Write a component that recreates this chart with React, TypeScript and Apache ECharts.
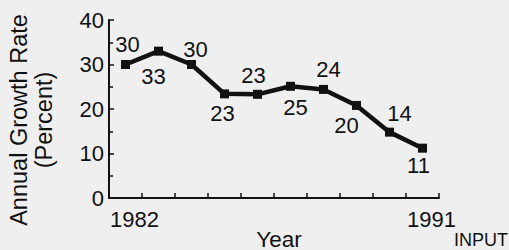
import React, { useEffect, useRef } from "react";
import * as echarts from "echarts";

const years = ["1982", "1983", "1984", "1985", "1986", "1987", "1988", "1989", "1990", "1991"];
const rates = [30, 33, 30, 23.4, 23.3, 25.1, 24.4, 20.8, 14.8, 11.2];
const rateLabels = ["30", "33", "30", "23", "23", "25", "24", "20", "14", "11"];
const yTicks = [0, 10, 20, 30, 40];
const shownYears = ["1982", "1991"];

// label layout (positions/offsets per point)
const labelSides = ["top", "bottom", "top", "bottom", "top", "bottom", "top", "bottom", "top", "bottom"];
const labelOffsets = [
  [2, -1], [-5, 6], [4, 4], [-2, 0], [-4, 1], [5, 2], [5, 0], [-10, 1], [10, 1], [-4, -2],
];

const FONT = "'Liberation Sans', Arial, Helvetica, sans-serif";

export default function App() {
  const ref = useRef<HTMLDivElement>(null);
  useEffect(() => {
    if (!ref.current) return;
    const chart = echarts.init(ref.current, null, { renderer: "svg" });
    const data = rates.map((v, i) => ({
      value: v,
      label: {
        show: true,
        formatter: rateLabels[i],
        position: labelSides[i] as any,
        distance: 4,
        offset: labelOffsets[i],
      },
    }));
    chart.setOption({
      animation: false,
      backgroundColor: "#efeff0",
      textStyle: { fontFamily: FONT },
      grid: { left: 109, right: 70, top: 20, bottom: 52, containLabel: false },
      xAxis: {
        type: "category",
        data: years,
        boundaryGap: true,
        axisLine: { lineStyle: { color: "#111", width: 2 } },
        axisTick: { show: true, inside: true, length: 5, lineStyle: { color: "#111", width: 1.5 } },
        axisLabel: {
          interval: 0,
          margin: 10,
          color: "#111",
          fontSize: 22,
          fontFamily: FONT,
          padding: [0, 0, 0, 18],
          formatter: (v: string) => (shownYears.includes(v) ? v : ""),
        },
        splitLine: { show: false },
      },
      yAxis: {
        type: "value",
        min: yTicks[0],
        max: yTicks[yTicks.length - 1],
        interval: 10,
        axisLine: { show: true, lineStyle: { color: "#111", width: 2 } },
        axisTick: { show: true, inside: true, length: 5, lineStyle: { color: "#111", width: 1.5 } },
        minorTick: { show: true, splitNumber: 2, length: 4, lineStyle: { color: "#111", width: 1.5 } },
        axisLabel: { margin: 5, color: "#111", fontSize: 22, fontFamily: FONT },
        splitLine: { show: false },
      },
      series: [
        {
          type: "line",
          data,
          symbol: "rect",
          symbolSize: 9,
          lineStyle: { color: "#111", width: 4.5 },
          itemStyle: { color: "#111" },
          label: { color: "#111", fontSize: 22, fontFamily: FONT },
        },
      ],
      graphic: [
        {
          type: "text",
          x: 31,
          y: 120,
          rotation: Math.PI / 2,
          style: {
            text: "Annual Growth Rate\n(Percent)",
            fontSize: 23.5,
            lineHeight: 25,
            fontFamily: FONT,
            fill: "#111",
            align: "center",
            verticalAlign: "middle",
          },
        },
        {
          type: "text",
          x: 279,
          y: 239,
          style: {
            text: "Year",
            fontSize: 22.5,
            fontFamily: FONT,
            fill: "#111",
            align: "center",
            verticalAlign: "middle",
          },
        },
        {
          type: "text",
          x: 508,
          y: 240,
          style: {
            text: "INPUT",
            fontSize: 18,
            fontFamily: FONT,
            fill: "#111",
            align: "right",
            verticalAlign: "middle",
          },
        },
      ],
    });
    return () => chart.dispose();
  }, []);
  return (
    <div
      ref={ref}
      style={{ position: "absolute", left: 0, top: 0, width: 509, height: 250 }}
    />
  );
}
